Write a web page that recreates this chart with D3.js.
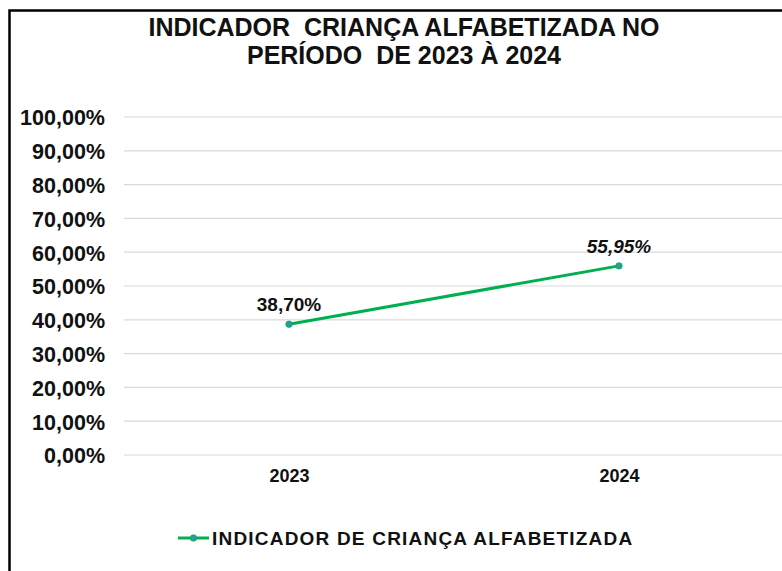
<!DOCTYPE html>
<html>
<head>
  <meta charset="utf-8">
  <script src="https://d3js.org/d3.v7.min.js"></script>
  <title>Indicador Criança Alfabetizada</title>
  <style>
    body { margin: 0; background: #fff; }
    text { font-family: "Liberation Sans", Arial, sans-serif; fill: #111; }
  </style>
</head>
<body>
  <div class="chart"></div>
  <script>
    // data
    var years = ['2023', '2024'];
    var values = [0.3870, 0.5595];
    var valueLabels = ['38,70%', '55,95%'];
    var yTicks = [0, 0.1, 0.2, 0.3, 0.4, 0.5, 0.6, 0.7, 0.8, 0.9, 1.0];
    var titleLines = ['INDICADOR  CRIANÇA ALFABETIZADA NO', 'PERÍODO  DE 2023 À 2024'];
    var seriesName = 'INDICADOR DE CRIANÇA ALFABETIZADA';

    var width = 782, height = 571;
    var plot = {left: 124, right: 784, top: 117, bottom: 455};

    var svg = d3.select('.chart')
      .append('svg')
      .attr('width', width)
      .attr('height', height);

    // outer frame, cropped on the right and bottom like the original
    svg.append('rect')
      .attr('x', 9.5).attr('y', 10.5)
      .attr('width', 800).attr('height', 600)
      .attr('fill', 'white')
      .attr('stroke', '#000')
      .attr('stroke-width', 2.5);

    var x = d3.scalePoint()
      .domain(years)
      .range([plot.left, plot.right])
      .padding(0.5);

    var y = d3.scaleLinear()
      .domain([0, 1])
      .range([plot.bottom, plot.top]);

    var pct = function(v) { return d3.format('.2f')(v * 100).replace('.', ',') + '%'; };

    // gridlines
    svg.append('g')
      .selectAll('line')
      .data(yTicks)
      .enter()
      .append('line')
      .attr('x1', plot.left).attr('x2', plot.right)
      .attr('y1', function(d) { return y(d); })
      .attr('y2', function(d) { return y(d); })
      .attr('stroke', '#d9d9d9')
      .attr('stroke-width', 1.2);

    // y axis labels
    var yAxis = d3.axisLeft(y)
      .tickValues(yTicks)
      .tickFormat(pct)
      .tickSize(0)
      .tickPadding(0);
    svg.append('g')
      .attr('transform', 'translate(105,1)')
      .call(yAxis)
      .call(function(g) { g.select('.domain').remove(); })
      .selectAll('text')
      .attr('font-size', 21.5)
      .attr('font-weight', 'bold')
      .attr('font-family', '"Liberation Sans", Arial, sans-serif')
      .attr('fill', '#111');

    // x axis labels
    var xAxis = d3.axisBottom(x).tickSize(0).tickPadding(0);
    svg.append('g')
      .attr('transform', 'translate(0,' + 469 + ')')
      .call(xAxis)
      .call(function(g) { g.select('.domain').remove(); })
      .selectAll('text')
      .attr('font-size', 18)
      .attr('font-weight', 'bold')
      .attr('font-family', '"Liberation Sans", Arial, sans-serif')
      .attr('fill', '#111');

    // the line
    var line = d3.line()
      .x(function(d, i) { return x(years[i]); })
      .y(function(d) { return y(d); });

    svg.append('path')
      .datum(values)
      .attr('d', line)
      .attr('fill', 'none')
      .attr('stroke', '#00b050')
      .attr('stroke-width', 3);

    svg.selectAll('circle.pt')
      .data(values)
      .enter()
      .append('circle')
      .attr('class', 'pt')
      .attr('cx', function(d, i) { return x(years[i]); })
      .attr('cy', function(d) { return y(d); })
      .attr('r', 3.2)
      .attr('fill', '#2e9aa0')
      .attr('stroke', '#00b050')
      .attr('stroke-width', 0.8);

    // data labels
    svg.selectAll('text.lbl')
      .data(values)
      .enter()
      .append('text')
      .attr('class', 'lbl')
      .attr('x', function(d, i) { return x(years[i]); })
      .attr('y', function(d) { return y(d) - 13; })
      .attr('text-anchor', 'middle')
      .attr('font-size', 19)
      .attr('font-weight', 'bold')
      .attr('font-style', function(d, i) { return i === 1 ? 'italic' : 'normal'; })
      .text(function(d, i) { return valueLabels[i]; });

    // title
    svg.selectAll('text.title')
      .data(titleLines)
      .enter()
      .append('text')
      .attr('class', 'title')
      .attr('x', 404)
      .attr('y', function(d, i) { return 36 + i * 28; })
      .attr('text-anchor', 'middle')
      .attr('font-size', 25)
      .attr('font-weight', 'bold')
      .style('white-space', 'pre')
      .text(function(d) { return d; });

    // legend
    var lg = svg.append('g').attr('transform', 'translate(178,538)');
    lg.append('line')
      .attr('x1', 0).attr('x2', 31)
      .attr('stroke', '#00b050')
      .attr('stroke-width', 3);
    lg.append('circle')
      .attr('cx', 15.5).attr('r', 3.2)
      .attr('fill', '#2e9aa0')
      .attr('stroke', '#00b050')
      .attr('stroke-width', 0.8);
    lg.append('text')
      .attr('x', 34).attr('y', 7)
      .attr('font-size', 19)
      .attr('font-weight', 'bold')
      .attr('letter-spacing', 1.2)
      .text(seriesName);
  </script>
</body>
</html>
